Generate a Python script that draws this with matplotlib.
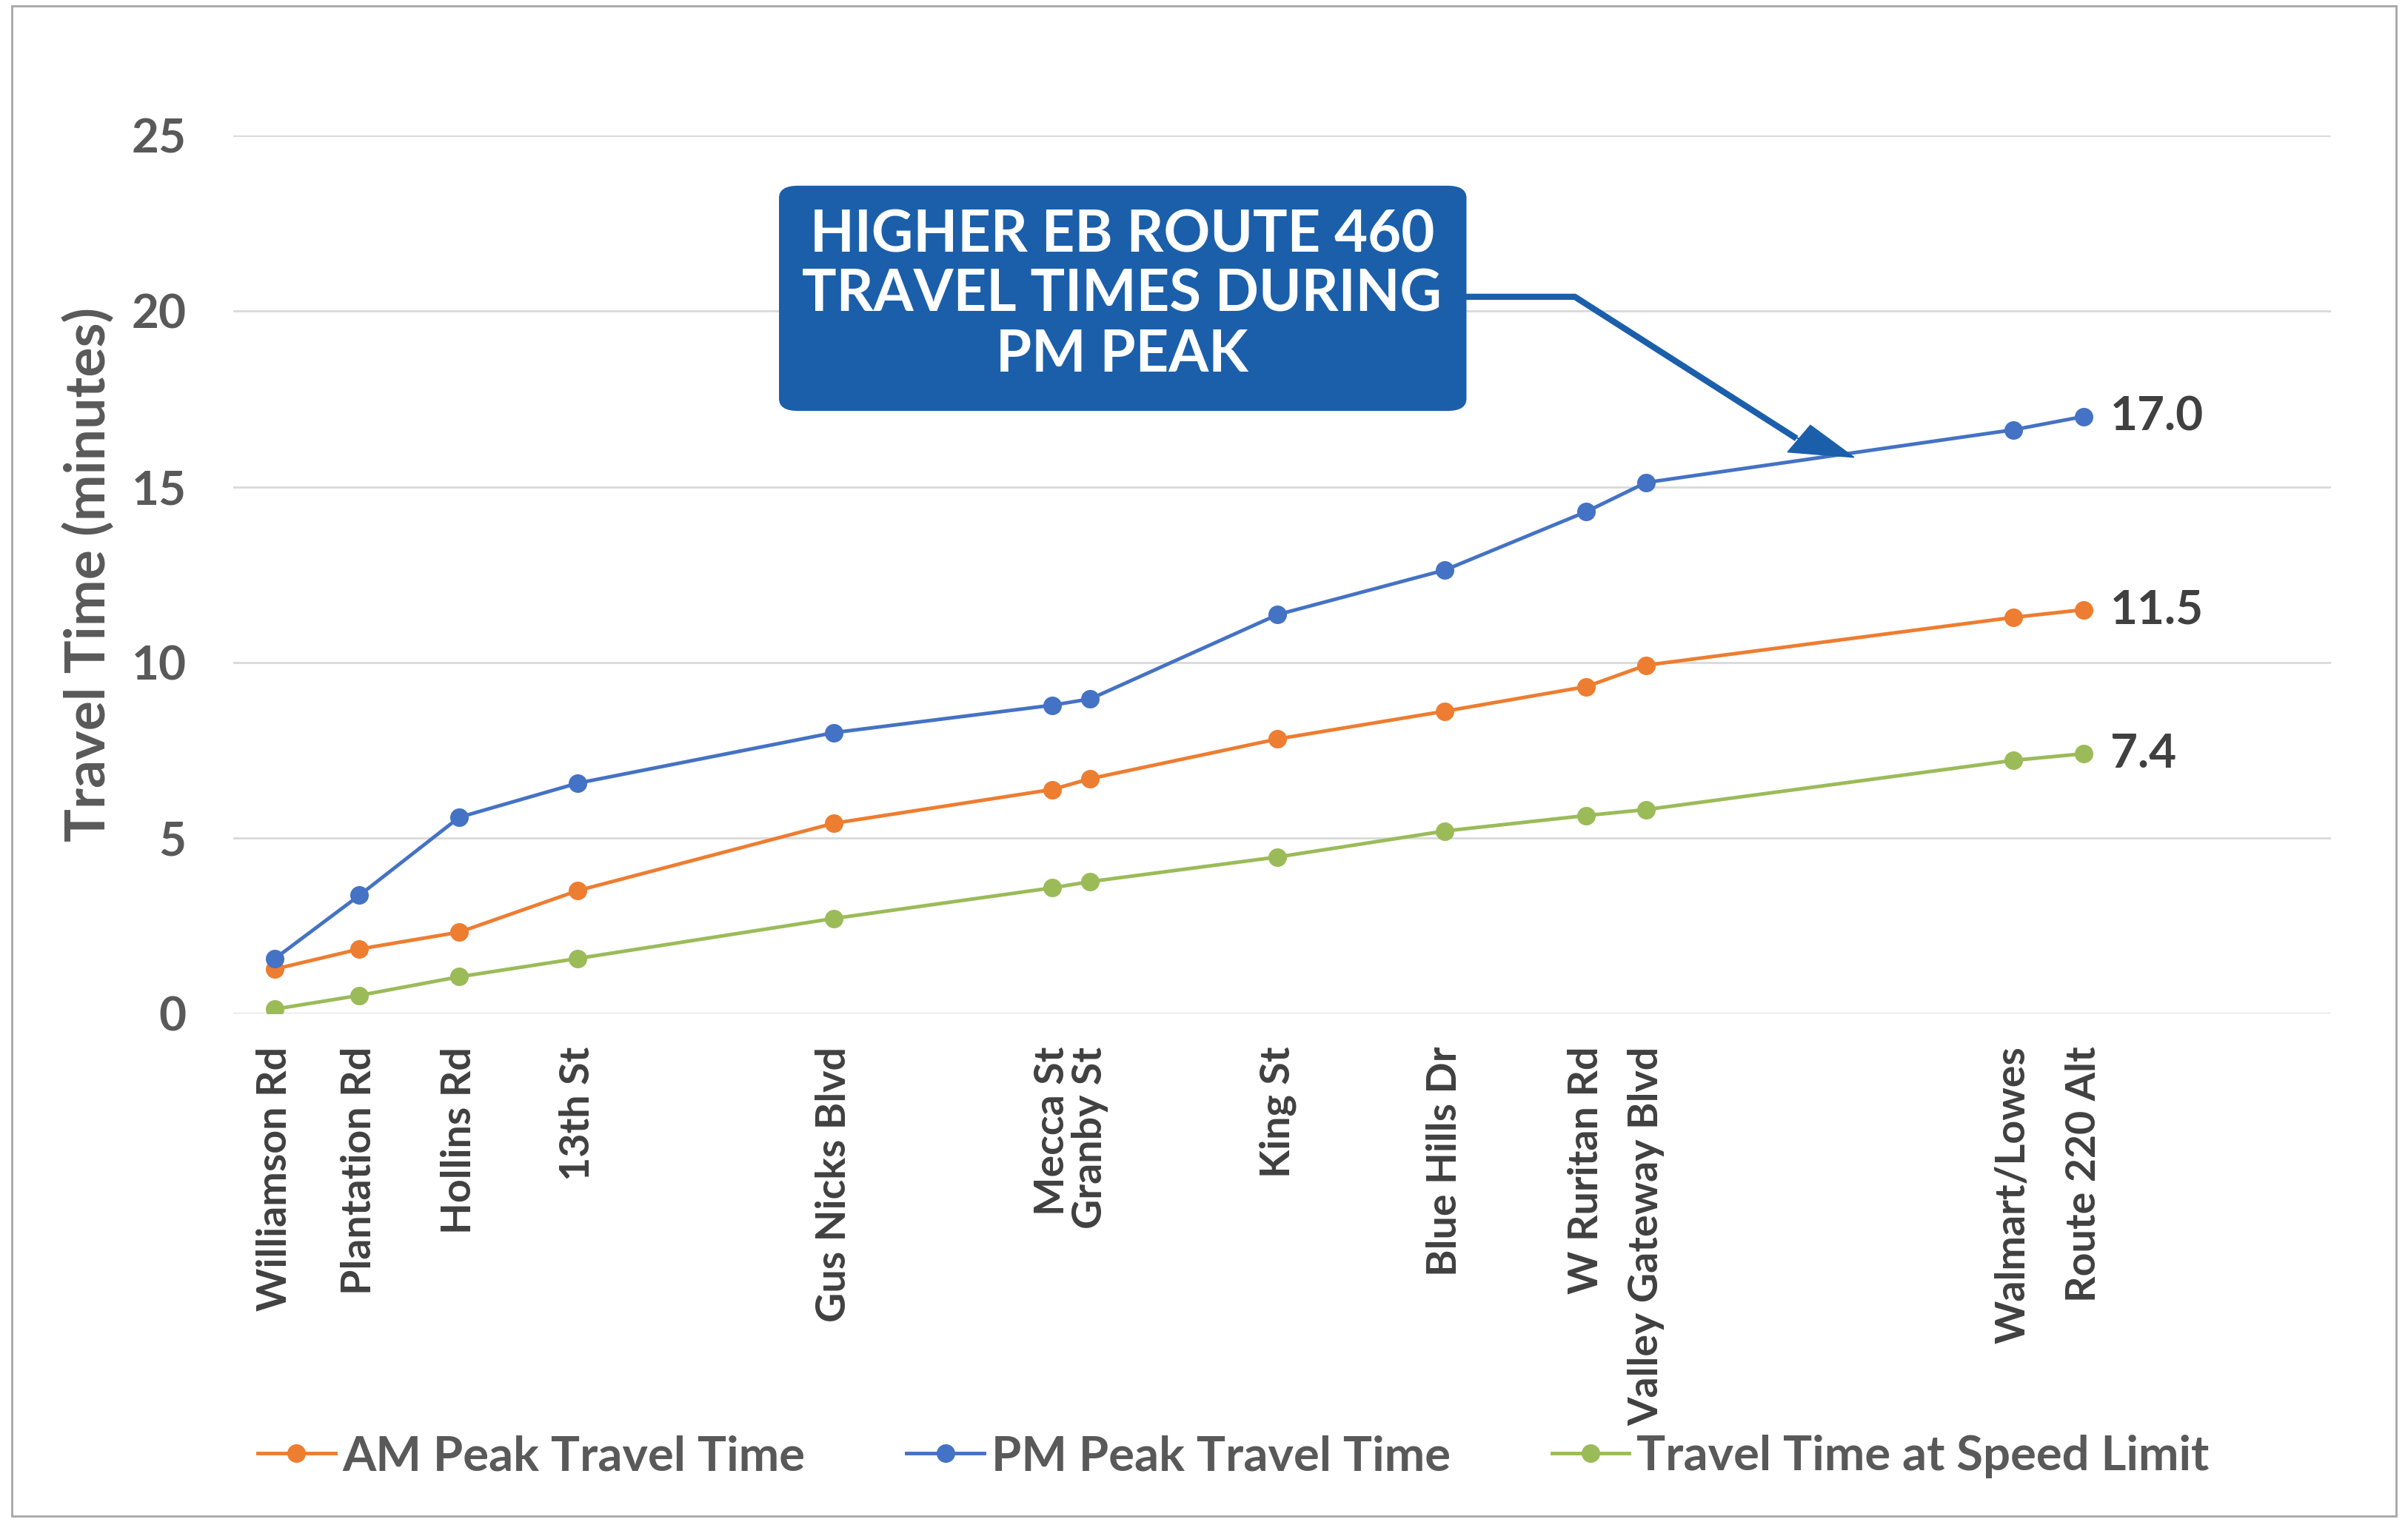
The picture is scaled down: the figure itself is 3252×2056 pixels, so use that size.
import numpy as np
import matplotlib.pyplot as plt
from matplotlib.patches import FancyBboxPatch, Rectangle, FancyArrow

plt.rcParams['font.family'] = ['Lato', 'DejaVu Sans']

# ============ 数据 ============
stops = ["Williamson Rd", "Plantation Rd", "Hollins Rd", "13th St", "Gus Nicks Blvd",
         "Mecca St", "Granby St", "King St", "Blue Hills Dr", "W Ruritan Rd",
         "Valley Gateway Blvd", "Walmart/Lowes", "Route 220 Alt"]
# 沿线位置 (相对距离)
stop_pos = [0.0, 0.55, 1.20, 1.97, 3.64, 5.06, 5.31, 6.53, 7.62, 8.54, 8.93, 11.32, 11.78]

am_peak = [1.27, 1.84, 2.32, 3.50, 5.42, 6.38, 6.69, 7.82, 8.61, 9.31, 9.92, 11.28, 11.5]
pm_peak = [1.57, 3.37, 5.59, 6.56, 8.00, 8.78, 8.96, 11.36, 12.63, 14.29, 15.12, 16.62, 17.0]
speed_limit = [0.13, 0.52, 1.05, 1.57, 2.71, 3.58, 3.76, 4.46, 5.20, 5.64, 5.81, 7.21, 7.4]

orange = "#ED7D31"
blue = "#4472C4"
green = "#9BBB59"
box_blue = "#1B5FAA"
text_gray = "#595959"

# ============ 绘图 ============
fig = plt.figure(figsize=(32.52, 20.56), dpi=100)
ax = fig.add_axes([0.097, 0.334, 0.871, 0.577])

ax.plot(stop_pos, am_peak, color=orange, lw=3.5, marker="o", ms=17, label="AM Peak Travel Time", zorder=3)
ax.plot(stop_pos, pm_peak, color=blue, lw=3.5, marker="o", ms=17, label="PM Peak Travel Time", zorder=3)
ax.plot(stop_pos, speed_limit, color=green, lw=3.5, marker="o", ms=17, label="Travel Time at Speed Limit", zorder=3)

ax.set_xlim(-0.27, 13.39)
ax.set_ylim(0, 25)
ax.set_yticks([0, 5, 10, 15, 20, 25])
ax.grid(axis="y", color="#D9D9D9", lw=2)
ax.set_axisbelow(True)
for s in ax.spines.values():
    s.set_visible(False)

ax.set_xticks(stop_pos)
ax.set_xticklabels(stops, rotation=90, fontsize=40, fontweight="bold", color="#404040")
ax.tick_params(axis="x", length=0, pad=32)
ax.tick_params(axis="y", length=0, pad=46, labelsize=46, labelcolor=text_gray)
for t in ax.get_yticklabels():
    t.set_fontweight("bold")

ax.set_ylabel("Travel Time (minutes)", fontsize=54, fontweight="bold", color=text_gray, labelpad=16)

# 终点数值标签
for series in [am_peak, pm_peak, speed_limit]:
    ax.annotate(f"{series[-1]:.1f}", xy=(stop_pos[-1], series[-1]), xytext=(26, 0),
                textcoords="offset points", va="center", ha="left",
                fontsize=46, fontweight="bold", color="#404040")

# 标注框
box = FancyBboxPatch((0.3235, 0.730), 0.2855, 0.148, boxstyle="round,pad=0,rounding_size=0.008",
                     transform=fig.transFigure, facecolor=box_blue, edgecolor="none", zorder=5)
fig.patches.append(box)
fig.text(0.466, 0.806, "HIGHER EB ROUTE 460\nTRAVEL TIMES DURING\nPM PEAK", ha="center", va="center",
         fontsize=56, fontweight="bold", color="white", linespacing=1.15, zorder=6)

# 折线箭头
fig.lines.append(plt.Line2D([0.609, 0.654, 0.745], [0.805, 0.805, 0.713], transform=fig.transFigure,
                            color=box_blue, lw=6, zorder=5))
fig.patches.append(FancyArrow(0.743, 0.714, 0.027, -0.0145,
                              width=0.0, head_width=0.02, head_length=0.026, length_includes_head=True,
                              transform=fig.transFigure, color=box_blue, zorder=5))

# 图例
leg = fig.legend(loc="center left", bbox_to_anchor=(0.089, 0.043), ncol=3, frameon=False,
                 fontsize=47, handlelength=1.6, columnspacing=2.1, handletextpad=0.15)
for t in leg.get_texts():
    t.set_color(text_gray)
    t.set_fontweight("bold")

# 外框
fig.patches.append(Rectangle((0.005, 0.004), 0.99, 0.992, transform=fig.transFigure,
                             fill=False, edgecolor="#A6A6A6", lw=2))

plt.savefig("out.png", dpi=100)
